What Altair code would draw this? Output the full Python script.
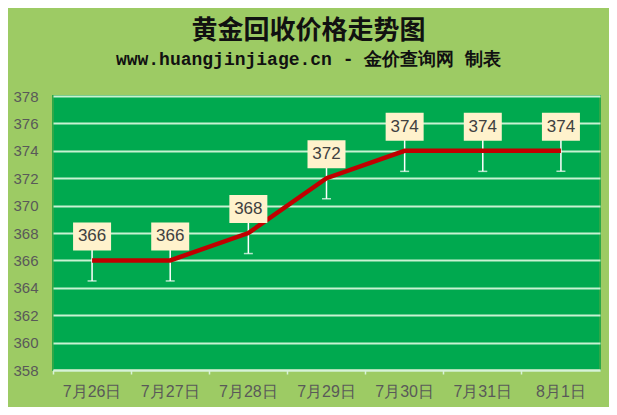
import altair as alt
import pandas as pd

dates = ["7月26日", "7月27日", "7月28日", "7月29日", "7月30日", "7月31日", "8月1日"]
prices = [366, 366, 368, 372, 374, 374, 374]
err = [1.5, 1.5, 1.5, 1.5, 1.5, 1.5, 1.5]
y_ticks = [358, 360, 362, 364, 366, 368, 370, 372, 374, 376, 378]

df = pd.DataFrame({"date": dates, "price": prices, "err": err})

W, H = 547, 274

x_scale = alt.Scale(domain=dates, paddingInner=0, paddingOuter=0)
y_scale = alt.Scale(domain=[358, 378], nice=False, zero=False)

x_axis = alt.Axis(
    title=None, labelAngle=0, bandPosition=0,
    ticks=True, tickColor="#D8F2D8", tickSize=4, tickWidth=1.5,
    domainColor="#D8F2D8", domainWidth=2, grid=False,
    labelFont="Liberation Sans", labelFontSize=16, labelColor="#595959",
    labelPadding=9,
)
y_axis = alt.Axis(
    title=None, values=y_ticks, tickCount=11, grid=True, gridColor="#C8F2D2",
    gridWidth=2, domain=False, ticks=False, labelPadding=15, labelOverlap=False,
    labelFont="Liberation Sans", labelFontSize=15, labelColor="#595959",
)


def X():
    return alt.X("date:N", sort=dates, scale=x_scale, axis=x_axis)


def Y(field):
    return alt.Y(field, scale=y_scale, axis=y_axis)


base = alt.Chart(df).transform_calculate(
    lo="datum.price - datum.err",
    hi="datum.price + datum.err",
    box_lo="datum.price + 0.73",
    box_hi="datum.price + 2.77",
)

rule = base.mark_rule(color="white", strokeWidth=1.5).encode(
    x=X(), y=Y("lo:Q"), y2="hi:Q"
)
cap = base.mark_tick(color="white", size=9, thickness=1.5, orient="horizontal").encode(
    x=X(), y=Y("lo:Q")
)
line = base.mark_line(color="#C00000", strokeWidth=4.5).encode(x=X(), y=Y("price:Q"))
box = base.mark_bar(color="#FFF2CC", width=38).encode(
    x=X(), y=Y("box_lo:Q"), y2="box_hi:Q"
)
label = base.mark_text(
    dy=-24, fontSize=17, color="#404040", font="Liberation Sans", baseline="middle"
).encode(x=X(), y=Y("price:Q"), text="price:Q")

chart = alt.layer(rule, cap, line, box, label).properties(
    width=W, height=H,
    autosize=alt.AutoSizeParams(type="none"),
    padding={"left": 45, "top": 88, "right": 9, "bottom": 37},
    background="#9DCB64",
    title=alt.Title(
        text="黄金回收价格走势图",
        subtitle="www.huangjinjiage.cn - 金价查询网 制表",
        anchor="middle", dx=-18, offset=20,
        font="Noto Sans CJK SC", fontSize=26, fontWeight="bold", color="#111111",
        subtitleFont="Liberation Mono", subtitleFontSize=18, subtitleFontWeight="bold",
        subtitleColor="#111111", subtitlePadding=7,
    ),
).configure_view(fill="#00A94F", stroke="#2DA848", strokeWidth=2)

chart.save("out.html", embed_options={"renderer": "svg", "actions": False})
